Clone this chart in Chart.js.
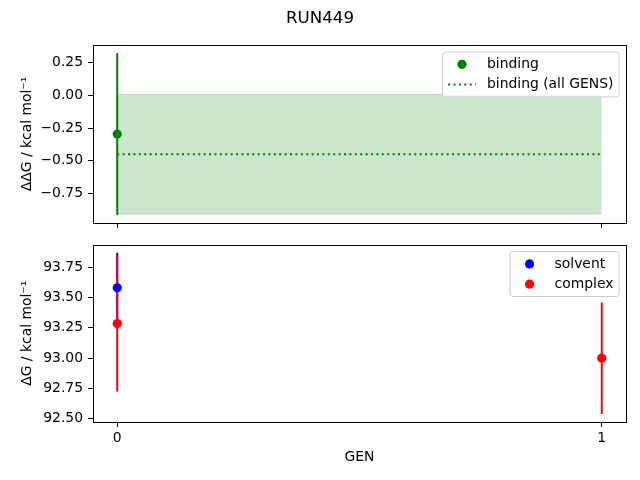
<!DOCTYPE html>
<html>
<head>
<meta charset="utf-8">
<script src="https://cdn.jsdelivr.net/npm/chart.js@4.4.0/dist/chart.umd.min.js"></script>
<style>
  body { margin: 0; background: #fff; }
  #wrap { position: relative; width: 640px; height: 480px; }
  #title { position: absolute; left: 0; top: 6px; width: 640px; text-align: center;
           font: 16.7px "DejaVu Sans"; color: #000; line-height: 22px; }
  #topChart { position: absolute; left: 0; top: 0; }
  #bottomChart { position: absolute; left: 0; top: 240px; }
</style>
</head>
<body>
<div id="wrap">
  <canvas id="topChart" width="640" height="240"></canvas>
  <canvas id="bottomChart" width="640" height="240"></canvas>
  <div id="title">RUN449</div>
</div>
<script>
// --- data ---
const gens = [0, 1];
const bindingGens = [0];
const bindingDG = [-0.295];
const bindingErr = [0.62];
const bindingAllDG = -0.45;
const bindingAllErr = 0.458;
const solventGens = [0];
const solventDG = [93.58];
const solventErr = [0.29];
const complexGens = [0, 1];
const complexDG = [93.285, 93.00];
const complexErr = [0.56, 0.46];
const topTicks = [-0.75, -0.5, -0.25, 0, 0.25];
const bottomTicks = [92.5, 92.75, 93.0, 93.25, 93.5, 93.75];
const genTicks = [0, 1];

const GREEN = '#008000', BLUE = '#0000ff', RED = '#ff0000';
const FONT = '"DejaVu Sans"';

// matplotlib style 5% margins around the data
function limits(lo, hi) {
  const m = (hi - lo) * 0.05;
  return [lo - m, hi + m];
}
const xLim = limits(Math.min(...gens), Math.max(...gens));

function fmt(v) {
  return v.toFixed(2).replace('-', '\u2212');
}

// one vertical line dataset per error bar
function errorBars(xs, ys, errs, color, order) {
  return xs.map((x, i) => ({
    type: 'line',
    data: [{x: x, y: ys[i] - errs[i]}, {x: x, y: ys[i] + errs[i]}],
    borderColor: color,
    borderWidth: 2,
    pointRadius: 0,
    order: order
  }));
}

function points(xs, ys, color, order) {
  return {
    data: xs.map((x, i) => ({x: x, y: ys[i]})),
    backgroundColor: color,
    borderWidth: 0,
    pointRadius: 4.6,
    pointHoverRadius: 4.6,
    order: order
  };
}

// box around the plot area, like the matplotlib spines
const frame = {
  id: 'frame',
  afterDatasetsDraw(chart) {
    const {ctx, chartArea: a} = chart;
    ctx.save();
    ctx.strokeStyle = '#000';
    ctx.lineWidth = 1;
    ctx.strokeRect(Math.round(a.left) + 0.5, Math.round(a.top) + 0.5,
                   Math.round(a.right - a.left), Math.round(a.bottom - a.top));
    ctx.restore();
  }
};

// legend box in the upper right corner
const boxLegend = {
  id: 'boxLegend',
  afterDraw(chart, args, opts) {
    const items = opts.items;
    if (!items) return;
    const {ctx, chartArea: a} = chart;
    const fs = 13.9, pad = 5.6, handle = 27.8, gap = 11.1, rowH = 13.4, rowGap = 6.9;
    ctx.save();
    ctx.font = fs + 'px ' + FONT;
    const tw = Math.max(...items.map(it => ctx.measureText(it.text).width));
    const w = pad * 2 + handle + gap + tw;
    const h = pad * 2 + items.length * rowH + (items.length - 1) * rowGap;
    const x = a.right - 7 - w, y = a.top + 7;
    ctx.beginPath();
    if (ctx.roundRect) ctx.roundRect(x, y, w, h, 2.8); else ctx.rect(x, y, w, h);
    ctx.fillStyle = 'rgba(255,255,255,0.8)';
    ctx.fill();
    ctx.strokeStyle = '#cccccc';
    ctx.lineWidth = 1;
    ctx.stroke();
    items.forEach((it, i) => {
      const cy = y + pad + rowH / 2 + i * (rowH + rowGap);
      const hx = x + pad;
      if (it.kind === 'line') {
        ctx.beginPath();
        ctx.setLineDash(it.dash || []);
        ctx.strokeStyle = it.color;
        ctx.lineWidth = 2;
        ctx.moveTo(hx, cy);
        ctx.lineTo(hx + handle, cy);
        ctx.stroke();
        ctx.setLineDash([]);
      } else {
        ctx.beginPath();
        ctx.fillStyle = it.color;
        ctx.arc(hx + handle / 2, cy, 4.6, 0, Math.PI * 2);
        ctx.fill();
      }
      ctx.fillStyle = '#000';
      ctx.textBaseline = 'middle';
      ctx.textAlign = 'left';
      ctx.fillText(it.text, hx + handle + gap, cy);
    });
    ctx.restore();
  }
};

function xScale(showLabels, height) {
  return {
    type: 'linear',
    min: xLim[0],
    max: xLim[1],
    afterBuildTicks: s => { s.ticks = genTicks.map(v => ({value: v})); },
    afterFit: s => { s.height = height; s.paddingLeft = 0; s.paddingRight = 0; },
    grid: {drawOnChartArea: false, drawTicks: true, tickLength: 5, color: '#000', lineWidth: 1},
    border: {display: false},
    ticks: {display: showLabels, color: '#000', padding: 3, font: {family: FONT, size: 13.9},
            callback: v => String(v), maxRotation: 0},
    title: {display: showLabels, text: 'GEN', color: '#000', font: {family: FONT, size: 13.9},
            padding: {top: 0, bottom: 14.7}}
  };
}

function yScale(lim, ticks, label) {
  return {
    type: 'linear',
    min: lim[0],
    max: lim[1],
    afterBuildTicks: s => { s.ticks = ticks.map(v => ({value: v})); },
    afterFit: s => { s.width = 93; s.paddingTop = 0; s.paddingBottom = 0; },
    grid: {drawOnChartArea: false, drawTicks: true, tickLength: 5, color: '#000', lineWidth: 1},
    border: {display: false},
    ticks: {color: '#000', padding: 5, font: {family: FONT, size: 13.9}, callback: v => fmt(v)},
    title: {display: true, text: label, color: '#000', font: {family: FONT, size: 13.9},
            padding: {top: 18.7, bottom: 0}}
  };
}

document.addEventListener('DOMContentLoaded', function() {

  // --- 1. binding free energy ---
  const topLo = Math.min(...bindingDG.map((v, i) => v - bindingErr[i]), bindingAllDG - bindingAllErr);
  const topHi = Math.max(...bindingDG.map((v, i) => v + bindingErr[i]), bindingAllDG + bindingAllErr);
  const first = gens[0], last = gens[gens.length - 1];

  new Chart(document.getElementById('topChart'), {
    type: 'scatter',
    data: {
      datasets: [
        points(bindingGens, bindingDG, GREEN, 0),
        ...errorBars(bindingGens, bindingDG, bindingErr, GREEN, 1),
        {
          type: 'line',
          data: [{x: first, y: bindingAllDG}, {x: last, y: bindingAllDG}],
          borderColor: GREEN, borderWidth: 2, borderDash: [2, 3.4], pointRadius: 0, order: 2
        },
        {
          type: 'line',
          data: [{x: first, y: bindingAllDG + bindingAllErr}, {x: last, y: bindingAllDG + bindingAllErr}],
          borderColor: 'rgba(0,128,0,0.2)', borderWidth: 1, pointRadius: 0, fill: false, order: 3
        },
        {
          type: 'line',
          data: [{x: first, y: bindingAllDG - bindingAllErr}, {x: last, y: bindingAllDG - bindingAllErr}],
          borderColor: 'rgba(0,128,0,0.2)', borderWidth: 1, pointRadius: 0,
          fill: '-1', backgroundColor: 'rgba(0,128,0,0.2)', order: 4
        }
      ]
    },
    options: {
      responsive: false,
      animation: false,
      layout: {padding: {top: 45, right: 14, left: 0, bottom: 0}},
      plugins: {
        legend: {display: false},
        tooltip: {enabled: false},
        boxLegend: {items: [
          {text: 'binding', color: GREEN, kind: 'marker'},
          {text: 'binding (all GENS)', color: GREEN, kind: 'line', dash: [2, 3.4]}
        ]}
      },
      scales: {
        x: xScale(false, 17),
        y: yScale(limits(topLo, topHi), topTicks, '\u0394\u0394G / kcal mol\u207B\u00B9')
      }
    },
    plugins: [frame, boxLegend]
  });

  // --- 2. solvent and complex legs ---
  const allLo = [...solventDG.map((v, i) => v - solventErr[i]), ...complexDG.map((v, i) => v - complexErr[i])];
  const allHi = [...solventDG.map((v, i) => v + solventErr[i]), ...complexDG.map((v, i) => v + complexErr[i])];

  new Chart(document.getElementById('bottomChart'), {
    type: 'scatter',
    data: {
      datasets: [
        points(complexGens, complexDG, RED, 0),
        points(solventGens, solventDG, BLUE, 1),
        ...errorBars(complexGens, complexDG, complexErr, RED, 2),
        ...errorBars(solventGens, solventDG, solventErr, BLUE, 3)
      ]
    },
    options: {
      responsive: false,
      animation: false,
      layout: {padding: {top: 3.3, right: 14, left: 0, bottom: 0}},
      plugins: {
        legend: {display: false},
        tooltip: {enabled: false},
        boxLegend: {items: [
          {text: 'solvent', color: BLUE, kind: 'marker'},
          {text: 'complex', color: RED, kind: 'marker'}
        ]}
      },
      scales: {
        x: xScale(true, 58),
        y: yScale(limits(Math.min(...allLo), Math.max(...allHi)), bottomTicks, '\u0394G / kcal mol\u207B\u00B9')
      }
    },
    plugins: [frame, boxLegend]
  });

});
</script>
</body>
</html>
